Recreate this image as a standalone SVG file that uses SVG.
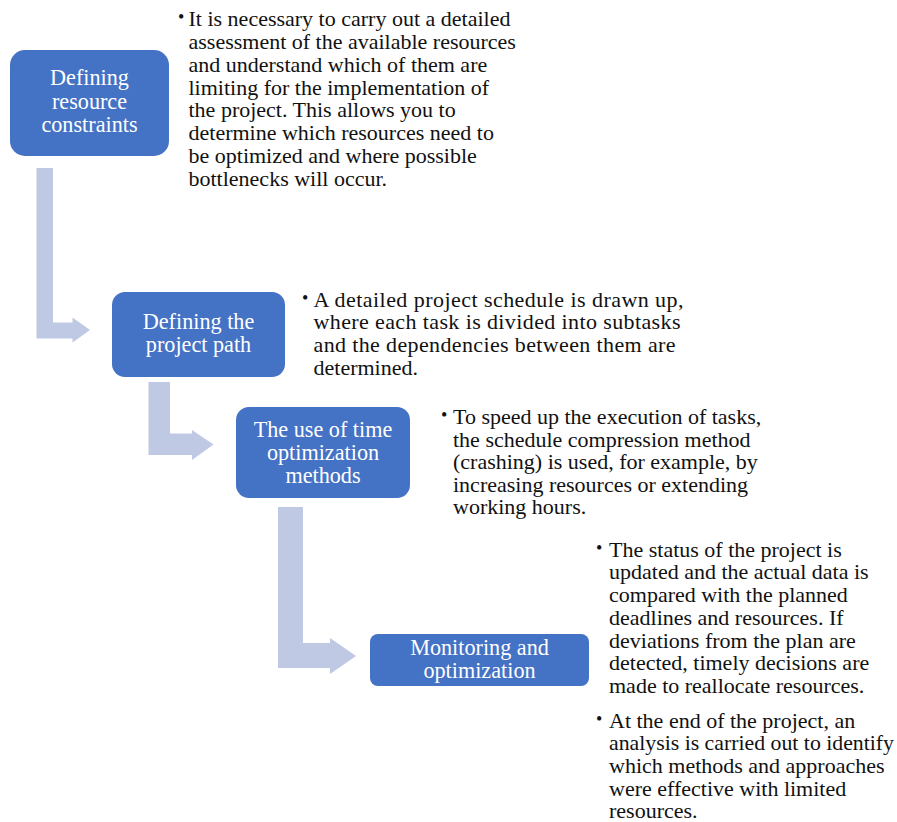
<svg xmlns="http://www.w3.org/2000/svg" width="897" height="822" viewBox="0 0 897 822">
<style>
.box{fill:#4472C4;}
.arr{fill:#BFC9E3;}
.bt{font-family:"Liberation Serif","Times New Roman",serif;font-size:22.2px;fill:#FFFFFF;text-anchor:middle;}
.tx{font-family:"Liberation Serif","Times New Roman",serif;font-size:22px;fill:#111111;}
.bl{font-family:"Liberation Serif","Times New Roman",serif;font-size:18px;fill:#111111;}
</style>
<rect width="897" height="822" fill="#FFFFFF"/>
<g id="connectors">
<path class="arr" d="M36.5,168 H53 V322.5 H72.5 V317.5 L90,330 L72.5,342.5 V338.5 H36.5 Z"/>
<path class="arr" d="M148.5,382 H170 V433.5 H192 V430 L213.5,444.5 L192,460 V455 H148.5 Z"/>
<path class="arr" d="M278,507 H303 V643 H330 V638 L356,656 L330,674 V668 H278 Z"/>
</g>
<g id="node1">
<rect class="box" x="10" y="50" width="159" height="106" rx="15"/>
<text class="bt" x="89.5" y="85">Defining</text>
<text class="bt" x="89.5" y="109">resource</text>
<text class="bt" x="89.5" y="132">constraints</text>
</g>
<g id="text1">
<text class="bl" x="178" y="23">•</text>
<text class="tx" x="188.5" y="26">It is necessary to carry out a detailed</text>
<text class="tx" x="188.5" y="48.9">assessment of the available resources</text>
<text class="tx" x="188.5" y="71.7">and understand which of them are</text>
<text class="tx" x="188.5" y="94.6">limiting for the implementation of</text>
<text class="tx" x="188.5" y="117.4">the project. This allows you to</text>
<text class="tx" x="188.5" y="140.3">determine which resources need to</text>
<text class="tx" x="188.5" y="163.1">be optimized and where possible</text>
<text class="tx" x="188.5" y="186">bottlenecks will occur.</text>
</g>
<g id="node2">
<rect class="box" x="112" y="292" width="173" height="85" rx="13"/>
<text class="bt" x="198.5" y="329">Defining the</text>
<text class="bt" x="198.5" y="352">project path</text>
</g>
<g id="text2">
<text class="bl" x="302" y="304">•</text>
<text class="tx" x="313.5" y="306.7" textLength="370" lengthAdjust="spacing">A detailed project schedule is drawn up,</text>
<text class="tx" x="313.5" y="329.4" textLength="367" lengthAdjust="spacing">where each task is divided into subtasks</text>
<text class="tx" x="313.5" y="352.1" textLength="362" lengthAdjust="spacing">and the dependencies between them are</text>
<text class="tx" x="313.5" y="374.8">determined.</text>
</g>
<g id="node3">
<rect class="box" x="236" y="407" width="174" height="91" rx="13"/>
<text class="bt" x="323" y="437">The use of time</text>
<text class="bt" x="323" y="460">optimization</text>
<text class="bt" x="323" y="483">methods</text>
</g>
<g id="text3">
<text class="bl" x="441" y="421">•</text>
<text class="tx" x="453" y="424">To speed up the execution of tasks,</text>
<text class="tx" x="453" y="446.6">the schedule compression method</text>
<text class="tx" x="453" y="469.2">(crashing) is used, for example, by</text>
<text class="tx" x="453" y="491.8">increasing resources or extending</text>
<text class="tx" x="453" y="514.4">working hours.</text>
</g>
<g id="node4">
<rect class="box" x="370" y="634" width="219" height="52" rx="8"/>
<text class="bt" x="479.5" y="655">Monitoring and</text>
<text class="bt" x="479.5" y="678">optimization</text>
</g>
<g id="text4">
<text class="bl" x="596" y="554">•</text>
<text class="tx" x="609" y="556.7">The status of the project is</text>
<text class="tx" x="609" y="579.4">updated and the actual data is</text>
<text class="tx" x="609" y="602">compared with the planned</text>
<text class="tx" x="609" y="624.8">deadlines and resources. If</text>
<text class="tx" x="609" y="647.5">deviations from the plan are</text>
<text class="tx" x="609" y="670.2">detected, timely decisions are</text>
<text class="tx" x="609" y="692.9">made to reallocate resources.</text>
<text class="bl" x="596" y="725">•</text>
<text class="tx" x="609" y="727.7">At the end of the project, an</text>
<text class="tx" x="609" y="750.3" textLength="285" lengthAdjust="spacingAndGlyphs">analysis is carried out to identify</text>
<text class="tx" x="609" y="772.9">which methods and approaches</text>
<text class="tx" x="609" y="795.5">were effective with limited</text>
<text class="tx" x="609" y="818.3">resources.</text>
</g>
</svg>
